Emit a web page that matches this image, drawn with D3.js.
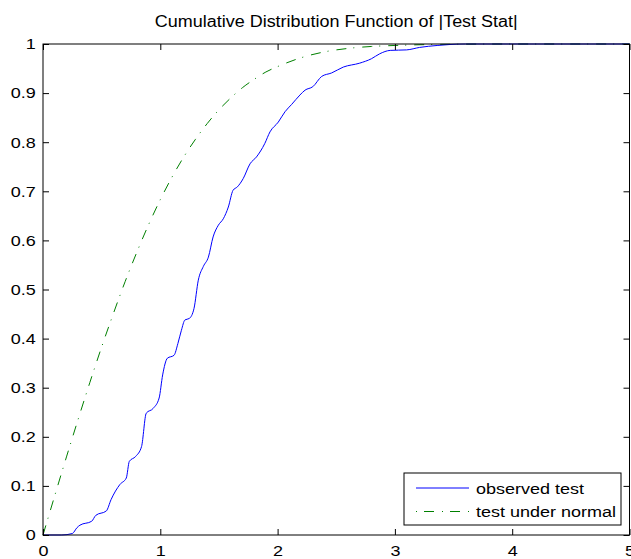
<!DOCTYPE html>
<html>
<head>
<meta charset="utf-8">
<script src="https://cdn.jsdelivr.net/npm/d3@7"></script>
<style>
  body { margin: 0; background: #fff; }
  text { font-family: "Liberation Sans", Arial, sans-serif; fill: #000; }
</style>
</head>
<body>
<div id="chart"></div>
<script>
var observedX = [0, 0.16, 0.25, 0.29, 0.315, 0.415, 0.45, 0.54, 0.58, 0.656, 0.71, 0.736, 0.79, 0.84, 0.88, 0.94, 0.99,
  1.02, 1.06, 1.117, 1.15, 1.18, 1.21, 1.247, 1.287, 1.324, 1.367, 1.41, 1.45, 1.495, 1.537, 1.58, 1.62, 1.657,
  1.707, 1.765, 1.82, 1.89, 1.935, 2.006, 2.063, 2.12, 2.19, 2.234, 2.30, 2.376, 2.46, 2.56, 2.70, 2.80, 2.87,
  2.96, 3.10, 3.21, 3.36, 3.47, 3.6, 5];
var observedY = [0, 0, 0.003, 0.015, 0.02, 0.028, 0.04, 0.049, 0.072, 0.103, 0.116, 0.15, 0.16, 0.18, 0.248, 0.258, 0.279,
  0.326, 0.36, 0.366, 0.39, 0.417, 0.438, 0.441, 0.461, 0.519, 0.547, 0.566, 0.607, 0.631, 0.644, 0.668, 0.702, 0.709,
  0.726, 0.756, 0.77, 0.797, 0.821, 0.841, 0.862, 0.877, 0.896, 0.906, 0.913, 0.934, 0.941, 0.953, 0.961, 0.970, 0.980,
  0.987, 0.988, 0.993, 0.997, 0.999, 1, 1];

// test under normal
var normalX = [0, 0.1, 0.2, 0.3, 0.4, 0.5, 0.6, 0.7, 0.8, 0.9, 1.0, 1.1, 1.2, 1.3, 1.4, 1.5, 1.6, 1.7, 1.8, 1.9, 2.0,
  2.2, 2.4, 2.6, 2.8, 3.0, 3.5, 4, 5];
var normalY = [0, 0.080, 0.159, 0.236, 0.311, 0.383, 0.451, 0.516, 0.576, 0.632, 0.683, 0.729, 0.770, 0.806, 0.838,
  0.866, 0.890, 0.911, 0.928, 0.943, 0.954, 0.972, 0.984, 0.991, 0.995, 0.997, 0.9995, 1, 1];

var xTicks = [0, 1, 2, 3, 4, 5];
var yTicks = [0, 0.1, 0.2, 0.3, 0.4, 0.5, 0.6, 0.7, 0.8, 0.9, 1];
var seriesNames = ["observed test", "test under normal"];

var svgWidth = 631, svgHeight = 559;
var margin = { top: 44, right: 1.5, bottom: 24, left: 43 };
var width = svgWidth - margin.left - margin.right;
var height = svgHeight - margin.top - margin.bottom;
var stretch = 1.2; // the reference font is a bit wider than Arial

var svg = d3.select("#chart").append("svg")
  .attr("width", svgWidth)
  .attr("height", svgHeight);

var chartGroup = svg.append("g")
  .attr("transform", `translate(${margin.left}, ${margin.top})`);

var xScale = d3.scaleLinear().domain([0, 5]).range([0, width]);
var yScale = d3.scaleLinear().domain([0, 1]).range([height, 0]);

// lines
var observed = observedX.map((x, i) => [x, observedY[i]]);
var normal = normalX.map((x, i) => [x, normalY[i]]);

var line = d3.line()
  .x(d => xScale(d[0]))
  .y(d => yScale(d[1]))
  .curve(d3.curveMonotoneX);

chartGroup.append("path")
  .datum(normal)
  .attr("d", line)
  .attr("fill", "none")
  .attr("stroke", "#008000")
  .attr("stroke-width", 1)
  .attr("stroke-dasharray", "10,7,1,8");

chartGroup.append("path")
  .datum(observed)
  .attr("d", line)
  .attr("fill", "none")
  .attr("stroke", "#0000ff")
  .attr("stroke-width", 1);

// axes (MATLAB style, ticks inward on all four sides)
function styleAxis(g) {
  g.select(".domain").remove();
  g.selectAll(".tick line").attr("stroke", "#000");
  g.selectAll(".tick text")
    .attr("font-size", "15px")
    .attr("font-family", "Liberation Sans, Arial, sans-serif")
    .attr("fill", "#000")
    .attr("transform", `scale(${stretch},1)`);
}

chartGroup.append("g")
  .attr("transform", `translate(0, ${height})`)
  .call(d3.axisBottom(xScale).tickValues(xTicks).tickFormat(d3.format("d")).tickSizeInner(-6).tickSizeOuter(0).tickPadding(10.5))
  .call(styleAxis);

chartGroup.append("g")
  .call(d3.axisTop(xScale).tickValues(xTicks).tickFormat("").tickSizeInner(-6).tickSizeOuter(0))
  .call(styleAxis);

chartGroup.append("g")
  .call(d3.axisLeft(yScale).tickValues(yTicks).tickFormat(d => d === 0 || d === 1 ? d : d3.format(".1f")(d)).tickSizeInner(-6).tickSizeOuter(0).tickPadding(6))
  .call(styleAxis);

chartGroup.append("g")
  .attr("transform", `translate(${width}, 0)`)
  .call(d3.axisRight(yScale).tickValues(yTicks).tickFormat("").tickSizeInner(-6).tickSizeOuter(0))
  .call(styleAxis);

chartGroup.append("rect")
  .attr("x", 0).attr("y", 0)
  .attr("width", width).attr("height", height)
  .attr("fill", "none")
  .attr("stroke", "#000")
  .attr("stroke-width", 1);

// title
svg.append("text")
  .attr("x", margin.left + width / 2)
  .attr("y", 27)
  .attr("text-anchor", "middle")
  .attr("font-size", "16px")
  .attr("textLength", 363)
  .attr("lengthAdjust", "spacingAndGlyphs")
  .text("Cumulative Distribution Function of |Test Stat|");

// legend
var legend = svg.append("g").attr("transform", "translate(404, 473)");
legend.append("rect")
  .attr("width", 217).attr("height", 52)
  .attr("fill", "#fff")
  .attr("stroke", "#000")
  .attr("stroke-width", 1);

var legendStyles = [
  { color: "#0000ff", dash: null },
  { color: "#008000", dash: "1,7,10,8" }
];
seriesNames.forEach(function(name, i) {
  var y = 15 + i * 23.5;
  legend.append("line")
    .attr("x1", 12).attr("x2", 65)
    .attr("y1", y).attr("y2", y)
    .attr("stroke", legendStyles[i].color)
    .attr("stroke-dasharray", legendStyles[i].dash);
  legend.append("text")
    .attr("transform", `translate(72, ${y + 5.5}) scale(${stretch},1)`)
    .attr("font-size", "15px")
    .text(name);
});
</script>
</body>
</html>
